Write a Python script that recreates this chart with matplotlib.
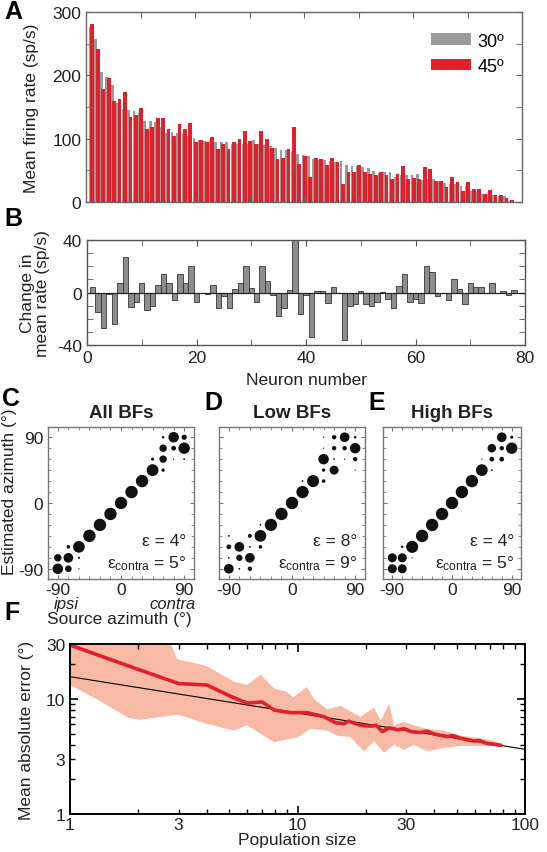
import numpy as np
import matplotlib
matplotlib.use('Agg')
import matplotlib.pyplot as plt
import matplotlib.ticker as mticker

plt.rcParams['font.family'] = ['Liberation Sans', 'DejaVu Sans']
plt.rcParams['mathtext.fontset'] = 'custom'
plt.rcParams['mathtext.rm'] = 'Liberation Sans'
plt.rcParams['mathtext.it'] = 'Liberation Sans:italic'
plt.rcParams['axes.unicode_minus'] = False

W, H = 547, 853

# ---------------- data ----------------
# panel A: mean firing rate per neuron (sp/s)
rate_45 = [281, 242, 178, 196, 160, 163, 174, 134, 137, 148,
           115, 118, 132, 132, 116, 104, 123, 115, 124, 94,
           98, 95, 103, 83, 91, 83, 95, 99, 112, 96,
           91, 112, 99, 86, 68, 70, 84, 119, 60, 72,
           39, 70, 68, 58, 69, 63, 28, 48, 48, 58,
           47, 44, 42, 47, 42, 36, 45, 57, 36, 38,
           36, 55, 52, 33, 33, 24, 39, 32, 17, 32,
           21, 20, 13, 19, 11, 11, 7, 3]
rate_30 = [277, 257, 205, 197, 184, 156, 147, 145, 144, 141,
           128, 128, 126, 118, 109, 110, 109, 108, 104, 101,
           98, 96, 97, 95, 94, 94, 92, 92, 92, 92,
           98, 92, 90, 88, 86, 82, 82, 79, 76, 74,
           73, 68, 67, 66, 65, 63, 64, 58, 57, 57,
           56, 54, 49, 46, 47, 47, 40, 43, 43, 43,
           44, 35, 36, 36, 33, 30, 29, 29, 26, 25,
           17, 16, 13, 12, 11, 10, 9, 1]
legend_labels = ['30º', '45º']

# panel B: change in mean rate (sp/s)
rate_change = [4, -15, -27, -1, -24, 7, 27, -11, -7.5, 7,
               -13.5, -10, 6, 14, 7, -6, 14, 7, 20, -7,
               0, -1, 6, -12, -3, -11.5, 3, 7, 20, 3.5,
               -7, 20, 9, -2, -18, -12, 2, 40, -16.5, -2,
               -34, 1.5, 1, -8, 4, 0, -36, -10, -9, 1,
               -9, -10, -7, 0.5, -5, -11.5, 5, 14, -7, -5,
               -8, 20, 16, -3, 0, -6, 10, 3, -9, 7,
               4, 4, 0, 7, 0, 1, -2, 2]

# panels C-E: (source azimuth, estimated azimuth, proportion)
conf_all = [(-90, -90, .68), (-90, -75, .34), (-75, -90, .27), (-75, -75, .58),
            (-75, -60, .08), (-60, -90, .01), (-60, -75, .03), (-60, -60, .85),
            (-45, -45, .95), (-30, -30, .95), (-15, -15, .95), (0, 0, .95),
            (15, 15, .95), (30, 30, .95), (45, 45, .87), (45, 60, .06),
            (60, 45, .07), (60, 60, .34), (60, 75, .34), (60, 90, .04),
            (75, 90, .68), (75, 75, .14), (75, 60, .01), (90, 90, .17),
            (90, 75, .80), (90, 60, .02)]
conf_low = [(-90, -90, .58), (-90, -75, .02), (-90, -60, .14), (-90, -45, .02),
            (-75, -90, .02), (-75, -75, .25), (-75, -60, .58),
            (-60, -90, .12), (-60, -75, .58), (-60, -60, .02), (-60, -45, .10),
            (-45, -60, .08), (-45, -45, .85), (-45, -30, .02),
            (-30, -30, .93), (-15, -15, .95), (0, 0, .95), (15, 15, .93),
            (15, 30, .02), (30, 30, .90), (45, 30, .08), (45, 45, .07),
            (45, 60, .68), (45, 75, .01), (45, 90, .01), (60, 45, .50),
            (60, 60, .02), (60, 75, .12), (60, 90, .12), (75, 60, .01),
            (75, 75, .12), (75, 90, .58), (90, 45, .01), (90, 60, .12),
            (90, 75, .68), (90, 90, .04)]
conf_high = [(-90, -90, .5), (-90, -75, .5), (-75, -90, .5), (-75, -75, .5),
             (-75, -60, .04), (-60, -75, .01), (-60, -60, .9),
             (-45, -45, .95), (-30, -30, .95), (-15, -15, .95), (0, 0, .95),
             (15, 15, .95), (30, 30, .95), (45, 45, .85), (45, 60, .01),
             (60, 45, .02), (60, 60, .14), (60, 75, .45), (75, 60, .14),
             (75, 75, .12), (75, 90, .58), (90, 90, .06), (90, 75, .80)]
conf_titles = ['All BFs', 'Low BFs', 'High BFs']
eps_all = [4, 8, 4]
eps_contra = [5, 9, 5]

# panel F: mean absolute error vs population size
mae_x = [1, 2, 3, 4, 5.1, 6, 7, 7.9, 9.3, 11, 13.1, 14.7, 16, 16.8, 18.9,
         21, 22.2, 23.6, 25.3, 27.5, 29.5, 31.5, 33, 34.8, 37, 39.9, 42,
         45.6, 48, 52, 55, 59.6, 63, 68, 72, 78]
mae_y = [29.4, 18, 13.6, 13.2, 10.5, 9.2, 9.4, 8.0, 7.6, 7.6, 7.0, 6.2, 6.1,
         6.4, 5.9, 5.8, 5.9, 5.2, 5.6, 5.4, 5.5, 5.2, 5.15, 5.1, 5.25, 4.95,
         4.85, 4.7, 4.8, 4.56, 4.45, 4.3, 4.35, 4.1, 4.05, 3.96]
band_hi_x = [1, 2, 2.77, 2.96, 4.0, 5.26, 6.0, 6.89, 7.9, 9.0, 9.6, 11.0, 11.8,
             13.5, 15.5, 17.1, 18.9, 21.7, 23.2, 25.3, 26.6, 29.4, 32.4, 37.2,
             44, 52, 61.7, 73, 78]
band_hi = [45, 36, 30, 22.2, 19.3, 14.1, 13.2, 16.2, 12.3, 11.5, 10.3, 12.7,
           10.0, 8.1, 8.7, 7.8, 7.0, 8.4, 6.5, 9.0, 5.9, 6.3, 5.9, 5.5, 5.3,
           4.8, 4.6, 4.3, 4.1]
band_lo_x = [1, 1.27, 1.82, 2.04, 3.01, 3.97, 5.26, 6.0, 7.9, 9.3, 10, 11.4,
             13.5, 14.9, 17.1, 19.6, 21.7, 24, 26.6, 29.4, 32.4, 37.2, 44, 52,
             61.7, 73, 78]
band_lo = [13.2, 10.3, 6.8, 6.6, 7.3, 6.1, 5.3, 5.9, 4.2, 4.5, 4.6, 5.5, 5.3,
           4.8, 4.65, 3.5, 4.3, 3.4, 4.0, 3.6, 4.0, 3.5, 3.75, 3.9, 3.9, 3.9,
           3.9]
fit_x = [1, 100]
fit_y = [15.6, 3.65]

RED = '#e0202a'
GREY = '#9a9a9a'
TXT = '#222222'
LS = 12.5  # tick label size

fig = plt.figure(figsize=(W / 100, H / 100), dpi=100)


def px_axes(l, t, r, b):
    return fig.add_axes([l / W, 1 - b / H, (r - l) / W, (b - t) / H])


def letter(x, y, s):
    fig.text(x / W, 1 - y / H, s, fontsize=18, fontweight='bold',
             ha='left', va='top', color='k')


def style(ax, col='#666666', lw=1.0):
    for sp in ax.spines.values():
        sp.set_color(col)
        sp.set_linewidth(lw)
    ax.tick_params(which='both', direction='in', top=True, right=True,
                   colors=col, labelcolor=TXT, labelsize=LS)


# ---------------- A ----------------
axA = px_axes(86, 13, 522, 203)
n = np.arange(1, len(rate_45) + 1)
# grey drawn first, red bar overlaps it so only a thin grey strip shows
axA.bar(n - 0.2, rate_30, width=0.5, color=GREY, lw=0, label=legend_labels[0])
axA.bar(n + 0.15, rate_45, width=0.7, color=RED, lw=0, label=legend_labels[1])
axA.set_xlim(0, 80)
axA.set_ylim(0, 300)
axA.set_xticks(range(10, 80, 10))
axA.set_xticklabels([])
axA.set_yticks([0, 100, 200, 300])
axA.yaxis.set_minor_locator(mticker.FixedLocator([50, 150, 250]))
style(axA)
axA.tick_params(which='both', length=4)
axA.set_ylabel('Mean firing rate (sp/s)', fontsize=12.5, color=TXT)
axA.yaxis.set_label_coords(-0.108, 0.5)
axA.legend(loc='upper right', frameon=False, fontsize=13, handlelength=2.2,
           handleheight=0.6, handletextpad=0.35, labelspacing=0.45,
           bbox_to_anchor=(0.975, 0.93), borderaxespad=0)

# ---------------- B ----------------
axB = px_axes(87, 241, 525, 346)
axB.bar(n, rate_change, width=1.0, color='#8e8e8e', edgecolor='#333333', lw=0.6)
axB.axhline(0, color='#222222', lw=0.9)
axB.set_xlim(0, 80)
axB.set_ylim(-40, 40)
axB.set_xticks(range(0, 81, 20))
axB.xaxis.set_minor_locator(mticker.FixedLocator(range(10, 80, 20)))
axB.set_yticks([-40, 0, 40])
axB.yaxis.set_minor_locator(mticker.FixedLocator([-30, -20, -10, 10, 20, 30]))
style(axB, '#555555')
axB.tick_params(which='both', length=4)
axB.set_xlabel('Neuron number', fontsize=12.5, color=TXT, labelpad=5)
axB.set_ylabel('Change in\nmean rate (sp/s)', fontsize=12.5, color=TXT,
               linespacing=1.0)
axB.yaxis.set_label_coords(-0.085, 0.5)

# ---------------- C, D, E ----------------
boxes = [(48, 428, 194, 580), (219, 428, 365, 580), (383, 428, 521, 580)]
confs = [conf_all, conf_low, conf_high]
for i, (box, conf) in enumerate(zip(boxes, confs)):
    ax = px_axes(*box)
    src = [c[0] for c in conf]
    est = [c[1] for c in conf]
    p = np.array([c[2] for c in conf])
    ax.scatter(src, est, s=p * 84, c='#111111', lw=0)
    ax.set_xlim(-104, 104)
    ax.set_ylim(-104, 104)
    ax.set_xticks([-90, 0, 90])
    ax.set_yticks([-90, 0, 90])
    ax.xaxis.set_minor_locator(mticker.FixedLocator(range(-90, 91, 15)))
    ax.yaxis.set_minor_locator(mticker.FixedLocator(range(-90, 91, 15)))
    style(ax, '#777777')
    ax.tick_params(which='major', length=3)
    ax.tick_params(which='minor', length=2)
    ax.tick_params(axis='x', pad=2)
    if i > 0:
        ax.set_yticklabels([])
    ax.set_title(conf_titles[i], fontsize=13.5, fontweight='bold', color=TXT, pad=7)
    ax.text(0.95, 0.255, 'ε = %d°' % eps_all[i], transform=ax.transAxes,
            ha='right', va='center', fontsize=12.5, color=TXT)
    ax.text(0.95, 0.11, 'ε$_{\\mathregular{contra}}$ = %d°' % eps_contra[i],
            transform=ax.transAxes, ha='right', va='center', fontsize=12.5,
            color=TXT)

fig.text(10 / W, 1 - 492 / H, 'Estimated azimuth (°)', rotation=90,
         ha='center', va='center', fontsize=12.5, color=TXT)
fig.text(66 / W, 1 - 605 / H, 'ipsi', style='italic', ha='center',
         va='center', fontsize=12, color=TXT)
fig.text(196 / W, 1 - 605 / H, 'contra', style='italic', ha='right',
         va='center', fontsize=12, color=TXT)
fig.text(47 / W, 1 - 620 / H, 'Source azimuth (°)', ha='left',
         va='center', fontsize=12.5, color=TXT)

# ---------------- F ----------------
axF = px_axes(70, 645, 525, 815)
axF.set_xscale('log')
axF.set_yscale('log')
axF.fill(np.r_[band_hi_x, band_lo_x[::-1]], np.r_[band_hi, band_lo[::-1]],
         color='#f8baa5', lw=0)
axF.plot(fit_x, fit_y, color='k', lw=0.8)
axF.plot(mae_x, mae_y, color=RED, lw=2.6, solid_joinstyle='round')
axF.set_xlim(1, 100)
axF.set_ylim(1, 30)
axF.xaxis.set_major_locator(mticker.FixedLocator([1, 10, 100]))
axF.xaxis.set_minor_locator(mticker.FixedLocator(
    [2, 3, 4, 5, 6, 7, 8, 9, 20, 30, 40, 50, 60, 70, 80, 90]))
axF.yaxis.set_major_locator(mticker.FixedLocator([1, 10]))
axF.yaxis.set_minor_locator(mticker.FixedLocator(
    [2, 3, 4, 5, 6, 7, 8, 9, 20, 30]))
axF.xaxis.set_major_formatter(mticker.FuncFormatter(lambda v, _: '%g' % v))
axF.yaxis.set_major_formatter(mticker.FuncFormatter(lambda v, _: '%g' % v))
axF.xaxis.set_minor_formatter(mticker.FuncFormatter(
    lambda v, _: '%g' % v if v in (3, 30) else ''))
axF.yaxis.set_minor_formatter(mticker.FuncFormatter(
    lambda v, _: '%g' % v if v in (3, 30) else ''))
style(axF, 'k', 1.4)
axF.tick_params(which='major', length=6, width=1.2)
axF.tick_params(which='minor', length=3.5, width=1.0)
axF.tick_params(axis='x', which='both', pad=2)
axF.set_xlabel('Population size', fontsize=12.5, color=TXT, labelpad=0)
axF.set_ylabel('Mean absolute error (°)', fontsize=12.5, color=TXT)
axF.yaxis.set_label_coords(-0.08, 0.5)

# ---------------- panel letters ----------------
letter(4, 0, 'A')
letter(4, 207, 'B')
letter(2, 387, 'C')
letter(204, 391, 'D')
letter(368, 391, 'E')
letter(4, 601, 'F')

fig.savefig('out.png', dpi=100)
